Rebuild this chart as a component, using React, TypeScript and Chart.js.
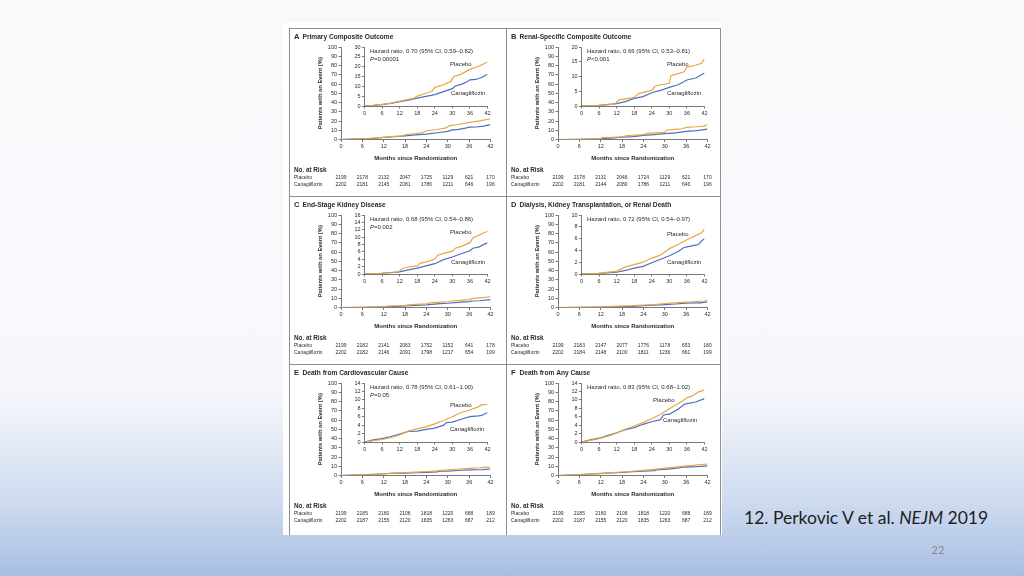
import React, { useEffect, useRef } from "react";
import { Chart, registerables } from "chart.js";
Chart.register(...registerables);

// ---------- shared ticks ----------
const MONTH_TICKS = [0, 6, 12, 18, 24, 30, 36, 42];

// ---------- Panel A: Primary Composite Outcome ----------
const A_PLACEBO_M = [0, 3, 6, 9, 12, 15, 17, 18, 21, 23, 24, 27, 29.5, 30.5, 33, 36, 39, 42];
const A_PLACEBO_PCT = [0, 0.3, 0.8, 1.5, 2.4, 3.4, 4.0, 5.0, 6.5, 7.5, 9.5, 10.8, 12.5, 15.0, 16.2, 18.6, 20.2, 22.4];
const A_CANA_M = [0, 3, 6, 9, 12, 15, 18, 21, 24, 27, 30, 31, 33, 35, 36, 38, 40, 42];
const A_CANA_PCT = [0, 0.3, 0.7, 1.3, 2.2, 3.0, 4.0, 4.9, 5.8, 7.3, 8.8, 10.2, 11.0, 12.3, 13.3, 13.5, 14.5, 16.1];
const A_RISK_PLACEBO = [2199, 2178, 2132, 2047, 1725, 1129, 621, 170];
const A_RISK_CANA = [2202, 2181, 2145, 2081, 1786, 1211, 646, 196];

// ---------- Panel B: Renal-Specific Composite Outcome ----------
const B_PLACEBO_M = [0, 6, 11.5, 12.5, 15, 18, 19.5, 21, 24, 25, 27, 30, 30.5, 33, 35, 36, 39, 41, 42];
const B_PLACEBO_PCT = [0, 0.2, 0.6, 2.0, 2.4, 2.9, 4.2, 4.6, 5.3, 6.6, 7.2, 7.7, 10.3, 11.0, 11.6, 13.2, 13.8, 14.5, 16.0];
const B_CANA_M = [0, 6, 12, 15, 18, 21, 24, 27, 30, 33, 36, 39, 42];
const B_CANA_PCT = [0, 0.2, 0.8, 1.5, 2.6, 3.2, 4.5, 5.3, 6.3, 7.2, 8.8, 9.5, 11.2];
const B_RISK_PLACEBO = [2199, 2178, 2131, 2046, 1724, 1129, 621, 170];
const B_RISK_CANA = [2202, 2181, 2144, 2080, 1786, 1211, 646, 196];

// ---------- Panel C: End-Stage Kidney Disease ----------
const C_PLACEBO_M = [0, 6, 10, 12, 13, 15, 18, 19, 21, 24, 25, 27, 30, 31, 33, 36, 37, 39, 42];
const C_PLACEBO_PCT = [0, 0.2, 0.4, 0.8, 1.5, 1.9, 2.2, 2.9, 3.3, 4.0, 5.1, 5.6, 6.2, 7.0, 7.5, 8.5, 9.8, 10.5, 11.6];
const C_CANA_M = [0, 6, 12, 15, 18, 21, 24, 27, 30, 33, 36, 37, 39, 42];
const C_CANA_PCT = [0, 0.2, 0.6, 1.1, 1.6, 2.2, 2.8, 3.9, 4.6, 5.5, 6.3, 7.0, 7.3, 8.5];
const C_RISK_PLACEBO = [2199, 2182, 2141, 2063, 1752, 1152, 641, 178];
const C_RISK_CANA = [2202, 2182, 2146, 2091, 1798, 1217, 654, 199];

// ---------- Panel D: Dialysis, Kidney Transplantation, or Renal Death ----------
const D_PLACEBO_M = [0, 6, 12, 15, 18, 21, 24, 27, 30, 33, 36, 39, 41, 42];
const D_PLACEBO_PCT = [0, 0.1, 0.5, 1.2, 1.6, 2.0, 2.7, 3.2, 4.3, 5.0, 5.8, 6.5, 7.0, 7.6];
const D_CANA_M = [0, 6, 12, 15, 18, 21, 24, 27, 30, 33, 35, 36, 39, 40, 41, 42];
const D_CANA_PCT = [0, 0.1, 0.3, 0.6, 1.0, 1.3, 1.9, 2.5, 3.1, 3.8, 4.5, 4.6, 4.9, 5.0, 5.6, 6.0];
const D_RISK_PLACEBO = [2199, 2183, 2147, 2077, 1776, 1178, 653, 180];
const D_RISK_CANA = [2202, 2184, 2148, 2100, 1811, 1236, 661, 199];

// ---------- Panel E: Death from Cardiovascular Cause ----------
const E_PLACEBO_M = [0, 3, 6, 9, 12, 15, 18, 21, 24, 27, 30, 33, 36, 39, 40, 42];
const E_PLACEBO_PCT = [0, 0.3, 0.6, 1.0, 1.7, 2.6, 3.1, 3.6, 4.3, 5.1, 6.0, 7.0, 7.6, 8.4, 8.8, 8.9];
const E_CANA_M = [0, 3, 6, 9, 12, 15, 18, 21, 24, 27, 28, 30, 33, 36, 39, 40, 42];
const E_CANA_PCT = [0, 0.5, 0.8, 1.3, 1.9, 2.5, 2.6, 3.0, 3.3, 4.0, 4.6, 4.7, 5.4, 6.0, 6.2, 6.3, 7.0];
const E_RISK_PLACEBO = [2199, 2185, 2160, 2106, 1818, 1220, 688, 189];
const E_RISK_CANA = [2202, 2187, 2155, 2120, 1835, 1263, 687, 212];

// ---------- Panel F: Death from Any Cause ----------
const F_PLACEBO_M = [0, 3, 6, 9, 12, 15, 18, 21, 24, 27, 30, 33, 36, 38, 40, 42];
const F_PLACEBO_PCT = [0, 0.4, 0.8, 1.4, 2.1, 3.1, 3.8, 4.6, 5.5, 6.6, 7.9, 9.1, 10.5, 11.0, 11.9, 12.3];
const F_CANA_M = [0, 3, 6, 9, 12, 15, 18, 21, 24, 27, 28, 30, 33, 35, 36, 39, 42];
const F_CANA_PCT = [0, 0.5, 0.9, 1.6, 2.2, 2.9, 3.4, 4.2, 4.8, 5.3, 6.4, 6.6, 7.8, 8.9, 9.1, 9.5, 10.3];
const F_RISK_PLACEBO = [2199, 2185, 2160, 2106, 1818, 1220, 688, 189];
const F_RISK_CANA = [2202, 2187, 2155, 2120, 1835, 1263, 687, 212];

// ---------- styles ----------
const FONT = '"Liberation Sans", Arial, sans-serif';
const ORANGE = "#e9a640";
const BLUE = "#4d70c2";
const AX = "#555555";
const TXT = "#2a2a2a";
const PANEL_H = 168;

type Series = { m: number[]; v: number[] };
type PanelDef = {
  letter: string;
  title: string;
  x: number;
  y: number;
  w: number;
  hr: string;
  p: string | null;
  insetMax: number;
  insetStep: number;
  placebo: Series;
  cana: Series;
  riskP: number[];
  riskC: number[];
  lblP: [number, number];
  lblC: [number, number];
};

const PANELS: PanelDef[] = [
  {
    letter: "A", title: "Primary Composite Outcome", x: 289, y: 28, w: 217,
    hr: "Hazard ratio, 0.70 (95% CI, 0.59\u20130.82)", p: "=0.00001",
    insetMax: 30, insetStep: 5,
    placebo: { m: A_PLACEBO_M, v: A_PLACEBO_PCT }, cana: { m: A_CANA_M, v: A_CANA_PCT },
    riskP: A_RISK_PLACEBO, riskC: A_RISK_CANA, lblP: [161, 36], lblC: [162, 65],
  },
  {
    letter: "B", title: "Renal-Specific Composite Outcome", x: 506, y: 28, w: 214,
    hr: "Hazard ratio, 0.66 (95% CI, 0.53\u20130.81)", p: "<0.001",
    insetMax: 20, insetStep: 5,
    placebo: { m: B_PLACEBO_M, v: B_PLACEBO_PCT }, cana: { m: B_CANA_M, v: B_CANA_PCT },
    riskP: B_RISK_PLACEBO, riskC: B_RISK_CANA, lblP: [161, 36], lblC: [161, 65],
  },
  {
    letter: "C", title: "End-Stage Kidney Disease", x: 289, y: 196, w: 217,
    hr: "Hazard ratio, 0.68 (95% CI, 0.54\u20130.86)", p: "=0.002",
    insetMax: 16, insetStep: 2,
    placebo: { m: C_PLACEBO_M, v: C_PLACEBO_PCT }, cana: { m: C_CANA_M, v: C_CANA_PCT },
    riskP: C_RISK_PLACEBO, riskC: C_RISK_CANA, lblP: [161, 36], lblC: [162, 66],
  },
  {
    letter: "D", title: "Dialysis, Kidney Transplantation, or Renal Death", x: 506, y: 196, w: 214,
    hr: "Hazard ratio, 0.72 (95% CI, 0.54\u20130.97)", p: null,
    insetMax: 10, insetStep: 2,
    placebo: { m: D_PLACEBO_M, v: D_PLACEBO_PCT }, cana: { m: D_CANA_M, v: D_CANA_PCT },
    riskP: D_RISK_PLACEBO, riskC: D_RISK_CANA, lblP: [161, 38], lblC: [161, 66],
  },
  {
    letter: "E", title: "Death from Cardiovascular Cause", x: 289, y: 364, w: 217,
    hr: "Hazard ratio, 0.78 (95% CI, 0.61\u20131.00)", p: "=0.05",
    insetMax: 14, insetStep: 2,
    placebo: { m: E_PLACEBO_M, v: E_PLACEBO_PCT }, cana: { m: E_CANA_M, v: E_CANA_PCT },
    riskP: E_RISK_PLACEBO, riskC: E_RISK_CANA, lblP: [161, 41], lblC: [161, 65],
  },
  {
    letter: "F", title: "Death from Any Cause", x: 506, y: 364, w: 214,
    hr: "Hazard ratio, 0.83 (95% CI, 0.68\u20131.02)", p: null,
    insetMax: 14, insetStep: 2,
    placebo: { m: F_PLACEBO_M, v: F_PLACEBO_PCT }, cana: { m: F_CANA_M, v: F_CANA_PCT },
    riskP: F_RISK_PLACEBO, riskC: F_RISK_CANA, lblP: [147, 36], lblC: [157, 56],
  },
];

function toPts(s: Series) {
  return s.m.map((m, i) => ({ x: m, y: s.v[i] }));
}

function datasets(p: PanelDef, width: number) {
  return [
    { label: "Placebo", data: toPts(p.placebo), borderColor: ORANGE, borderWidth: width, pointRadius: 0, tension: 0, fill: false },
    { label: "Canagliflozin", data: toPts(p.cana), borderColor: BLUE, borderWidth: width, pointRadius: 0, tension: 0, fill: false },
  ];
}

const tickFont = { family: FONT, size: 5.5 };

function axisCommon() {
  return {
    grid: { display: true, drawOnChartArea: false, drawTicks: true, tickLength: 2.5, color: AX, lineWidth: 0.8 },
    border: { display: true, color: AX, width: 0.8 },
  };
}

function Panel({ p }: { p: PanelDef }) {
  const mainRef = useRef<HTMLCanvasElement>(null);
  const insetRef = useRef<HTMLCanvasElement>(null);

  useEffect(() => {
    const mainText = {
      id: "mainText",
      afterDraw(chart: any) {
        const ctx = chart.ctx;
        const xs = chart.scales.x;
        ctx.save();
        ctx.fillStyle = TXT;
        ctx.textBaseline = "middle";
        ctx.textAlign = "left";
        ctx.font = `bold 7.5px ${FONT}`;
        ctx.fillText(p.letter, 5, 9);
        ctx.font = `bold 6.6px ${FONT}`;
        ctx.fillText(p.title, 13.5, 9);
        ctx.font = `bold 6.3px ${FONT}`;
        ctx.fillText("No. at Risk", 5, 142);
        ctx.font = `5px ${FONT}`;
        ctx.fillText("Placebo", 5, 150);
        ctx.fillText("Canagliflozin", 5, 157);
        ctx.textAlign = "center";
        p.riskP.forEach((v, i) => ctx.fillText(String(v), xs.getPixelForValue(MONTH_TICKS[i]), 150));
        p.riskC.forEach((v, i) => ctx.fillText(String(v), xs.getPixelForValue(MONTH_TICKS[i]), 157));
        ctx.restore();
      },
    };
    const main = new Chart(mainRef.current!, {
      type: "line",
      data: { datasets: datasets(p, 1.2) as any },
      plugins: [mainText],
      options: {
        animation: false,
        responsive: false,
        maintainAspectRatio: false,
        events: [],
        layout: { padding: { left: 0, top: 19, right: p.w - 201.5, bottom: PANEL_H - 111.5 - 25 } },
        plugins: { legend: { display: false }, tooltip: { enabled: false } },
        scales: {
          x: {
            type: "linear", min: 0, max: 42,
            ticks: { stepSize: 6, font: tickFont, color: TXT, padding: 1.5, maxRotation: 0, autoSkip: false },
            ...axisCommon(),
            title: { display: true, text: "Months since Randomization", color: TXT, font: { family: FONT, size: 6, weight: "bold" }, padding: { top: 0, bottom: 2.9 } },
            afterFit: (s: any) => { s.height = 25; },
          },
          y: {
            min: 0, max: 100,
            ticks: { stepSize: 10, font: tickFont, color: TXT, padding: 1.5, autoSkip: false },
            ...axisCommon(),
            title: { display: true, text: "Patients with an Event (%)", color: TXT, font: { family: FONT, size: 5.8, weight: "bold" }, padding: { top: 27.5, bottom: 0 } },
            afterFit: (s: any) => { s.width = 52; },
          },
        },
      } as any,
    });

    const insetText = {
      id: "insetText",
      afterDraw(chart: any) {
        const ctx = chart.ctx;
        ctx.save();
        ctx.fillStyle = TXT;
        ctx.textBaseline = "middle";
        ctx.textAlign = "left";
        ctx.font = `6px ${FONT}`;
        ctx.fillText(p.hr, 81, 23);
        if (p.p) {
          ctx.font = `italic 6px ${FONT}`;
          ctx.fillText("P", 81, 31);
          const w = ctx.measureText("P").width;
          ctx.font = `6px ${FONT}`;
          ctx.fillText(p.p, 81 + w, 31);
        }
        ctx.fillText("Placebo", p.lblP[0], p.lblP[1]);
        ctx.fillText("Canagliflozin", p.lblC[0], p.lblC[1]);
        ctx.restore();
      },
    };
    const inset = new Chart(insetRef.current!, {
      type: "line",
      data: { datasets: datasets(p, 1.2) as any },
      plugins: [insetText],
      options: {
        animation: false,
        responsive: false,
        maintainAspectRatio: false,
        events: [],
        layout: { padding: { left: 60, top: 19, right: p.w - 198.5, bottom: PANEL_H - 78 - 12 } },
        plugins: { legend: { display: false }, tooltip: { enabled: false } },
        scales: {
          x: {
            type: "linear", min: 0, max: 42,
            ticks: { stepSize: 6, font: tickFont, color: TXT, padding: 1.5, maxRotation: 0, autoSkip: false },
            ...axisCommon(),
            afterFit: (s: any) => { s.height = 12; },
          },
          y: {
            min: 0, max: p.insetMax,
            ticks: { stepSize: p.insetStep, font: tickFont, color: TXT, padding: 1.5, autoSkip: false },
            ...axisCommon(),
            afterFit: (s: any) => { s.width = 15.5; },
          },
        },
      } as any,
    });
    return () => {
      main.destroy();
      inset.destroy();
    };
  }, [p]);

  const style: React.CSSProperties = { position: "absolute", left: p.x, top: p.y, width: p.w, height: PANEL_H };
  return (
    <>
      <canvas ref={mainRef} width={p.w} height={PANEL_H} style={style} />
      <canvas ref={insetRef} width={p.w} height={PANEL_H} style={style} />
    </>
  );
}

const line = (l: number, t: number, w: number, h: number): React.CSSProperties => ({
  position: "absolute", left: l, top: t, width: w, height: h, background: "#8e8e8e",
});

export default function App() {
  return (
    <div
      style={{
        position: "fixed", left: 0, top: 0, width: 1024, height: 576, overflow: "hidden",
        background: "linear-gradient(to bottom, #f8f9fb 0%, #f7f8fb 67%, #e2e9f5 78%, #c9d7ee 89%, #a8bee3 100%)",
      }}
    >
      <div style={{ position: "absolute", left: 283, top: 23, width: 439, height: 512, background: "#ffffff" }} />
      <div style={line(289, 27.5, 432, 1)} />
      <div style={line(289, 27.5, 1, 507)} />
      <div style={line(720, 27.5, 1, 507)} />
      <div style={line(506, 27.5, 1, 507)} />
      <div style={line(289, 195.5, 432, 1)} />
      <div style={line(289, 363.5, 432, 1)} />
      {PANELS.map((p) => (
        <Panel key={p.letter} p={p} />
      ))}
      <div
        style={{
          position: "absolute", left: 744, top: 506, fontFamily: "Lato, 'Open Sans', sans-serif",
          fontSize: 17.5, lineHeight: "24px", color: "#1e1e1e", whiteSpace: "nowrap",
        }}
      >
        12. Perkovic V et al. <i>NEJM</i> 2019
      </div>
      <div
        style={{
          position: "absolute", left: 926, top: 543, width: 24, textAlign: "center",
          fontFamily: "Lato, 'Open Sans', sans-serif", fontSize: 11, lineHeight: "14px", color: "#8c8c8c",
        }}
      >
        22
      </div>
    </div>
  );
}
